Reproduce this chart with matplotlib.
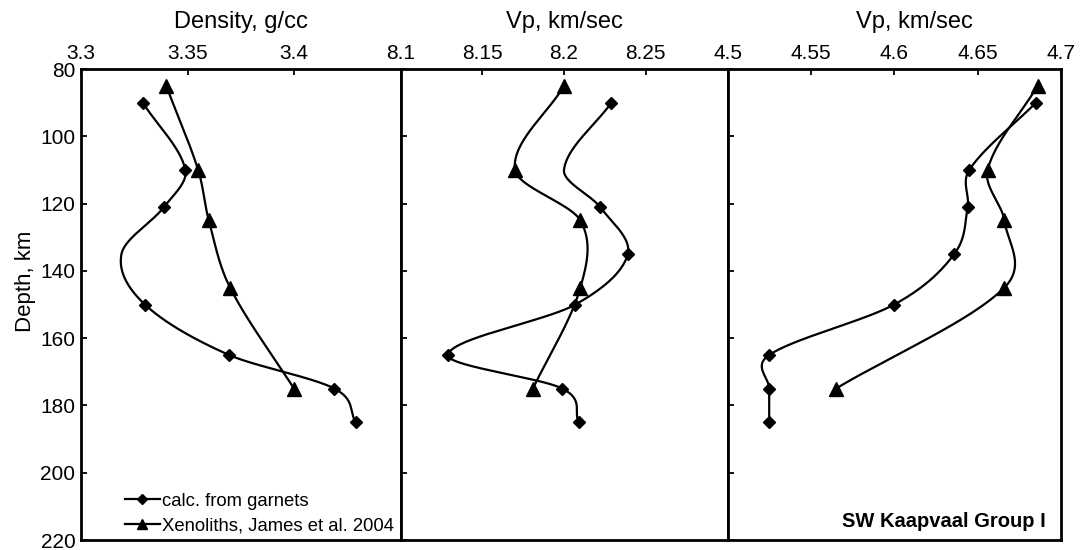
import numpy as np
import matplotlib
matplotlib.use('Agg')
import matplotlib.pyplot as plt

plt.rcParams['font.family'] = ['Liberation Sans', 'DejaVu Sans']

# Garnet-derived profiles (diamonds)
garnet_depth = [90, 110, 121, 135, 150, 165, 175, 185]
garnet_density = [3.329, 3.349, 3.339, 3.319, 3.330, 3.3695, 3.419, 3.429]
garnet_vp = [8.229, 8.200, 8.222, 8.239, 8.207, 8.129, 8.199, 8.209]
garnet_vs = [4.685, 4.645, 4.644, 4.636, 4.600, 4.525, 4.525, 4.525]

# Xenolith profiles, James et al. 2004 (triangles)
xeno_depth = [85, 110, 125, 145, 175]
xeno_density = [3.340, 3.355, 3.360, 3.370, 3.400]
xeno_vp = [8.200, 8.170, 8.210, 8.210, 8.181]
xeno_vs = [4.686, 4.656, 4.666, 4.666, 4.565]

# points drawn without a marker in the original (density @135, vp @110)
garnet_marks = [[0, 1, 2, 4, 5, 6, 7], [0, 2, 3, 4, 5, 6, 7], list(range(8))]

# axis setup per panel
x_titles = ['Density, g/cc', 'Vp, km/sec', 'Vp, km/sec']
x_limits = [(3.3, 3.45), (8.1, 8.3), (4.5, 4.7)]
x_ticks = [[3.3, 3.35, 3.4], [8.1, 8.15, 8.2, 8.25], [4.5, 4.55, 4.6, 4.65, 4.7]]
x_ticklabels = [['3.3', '3.35', '3.4'], ['8.1', '8.15', '8.2', '8.25'],
                ['4.5', '4.55', '4.6', '4.65', '4.7']]
depth_ticks = [80, 100, 120, 140, 160, 180, 200, 220]


# Catmull-Rom style cubic Hermite x(depth), used to draw the smooth curves
def smooth_curve(t, y, tt):
    t = np.asarray(t, float)
    y = np.asarray(y, float)
    n = len(t)
    m = np.empty(n)
    m[0] = (y[1] - y[0]) / (t[1] - t[0])
    m[-1] = (y[-1] - y[-2]) / (t[-1] - t[-2])
    m[1:-1] = (y[2:] - y[:-2]) / (t[2:] - t[:-2])
    out = np.empty_like(tt)
    for k, v in enumerate(tt):
        i = min(max(np.searchsorted(t, v) - 1, 0), n - 2)
        h = t[i + 1] - t[i]
        s = (v - t[i]) / h
        h00 = 2 * s**3 - 3 * s**2 + 1
        h10 = s**3 - 2 * s**2 + s
        h01 = -2 * s**3 + 3 * s**2
        h11 = s**3 - s**2
        out[k] = h00 * y[i] + h10 * h * m[i] + h01 * y[i + 1] + h11 * h * m[i + 1]
    return out


def draw_profile(ax, depth, values, marker, ms, markevery, label):
    dd = np.linspace(depth[0], depth[-1], 400)
    xx = smooth_curve(depth, values, dd)
    ax.plot(xx, dd, color='black', lw=1.6)
    idx = markevery
    ax.plot(np.array(values)[idx], np.array(depth)[idx], ls='none', marker=marker,
            ms=ms, color='black')
    # proxy for the legend
    ax.plot([], [], color='black', lw=1.6, marker=marker, ms=ms * 0.75, label=label)


fig = plt.figure(figsize=(10.81, 5.5), dpi=100)
W, H = 1081, 550
edges = [(81, 400.5), (400.5, 727.5), (727.5, 1061)]
top, bottom = 69, 540
title_x = [0.5, 0.5, 0.56]

garnet_sets = [garnet_density, garnet_vp, garnet_vs]
xeno_sets = [xeno_density, xeno_vp, xeno_vs]

axes = []
for i in range(3):
    l, r = edges[i]
    ax = fig.add_axes([l / W, (H - bottom) / H, (r - l) / W, (bottom - top) / H])
    axes.append(ax)

    draw_profile(ax, garnet_depth, garnet_sets[i], 'D', 6.5, garnet_marks[i], 'calc. from garnets')
    draw_profile(ax, xeno_depth, xeno_sets[i], '^', 10, list(range(len(xeno_depth))),
                 'Xenoliths, James et al. 2004')

    ax.set_xlim(*x_limits[i])
    ax.set_ylim(220, 80)
    ax.set_xticks(x_ticks[i])
    ax.set_xticklabels(x_ticklabels[i])
    ax.set_yticks(depth_ticks)
    ax.xaxis.tick_top()
    ax.xaxis.set_label_position('top')
    ax.set_xlabel(x_titles[i], fontsize=17)
    ax.xaxis.set_label_coords(title_x[i], 1.088)
    ax.tick_params(axis='both', direction='in', length=4, width=1.3, labelsize=15, pad=4)
    if i > 0:
        ax.tick_params(axis='y', labelleft=False)
    for s in ax.spines.values():
        s.set_linewidth(2)

axes[0].set_ylabel('Depth, km', fontsize=16)
axes[0].yaxis.set_label_coords(-0.142, 0.55)
axes[0].legend(loc='lower left', bbox_to_anchor=(0.12, 0.0), frameon=False, fontsize=13.3,
               handlelength=1.9, handletextpad=0.1, borderaxespad=0.0, borderpad=0.3,
               labelspacing=0.42)
axes[2].text(0.953, 0.04, 'SW Kaapvaal Group I', transform=axes[2].transAxes, ha='right',
             va='center', fontsize=14.5, fontweight='bold')

plt.savefig('out.png', dpi=100)
